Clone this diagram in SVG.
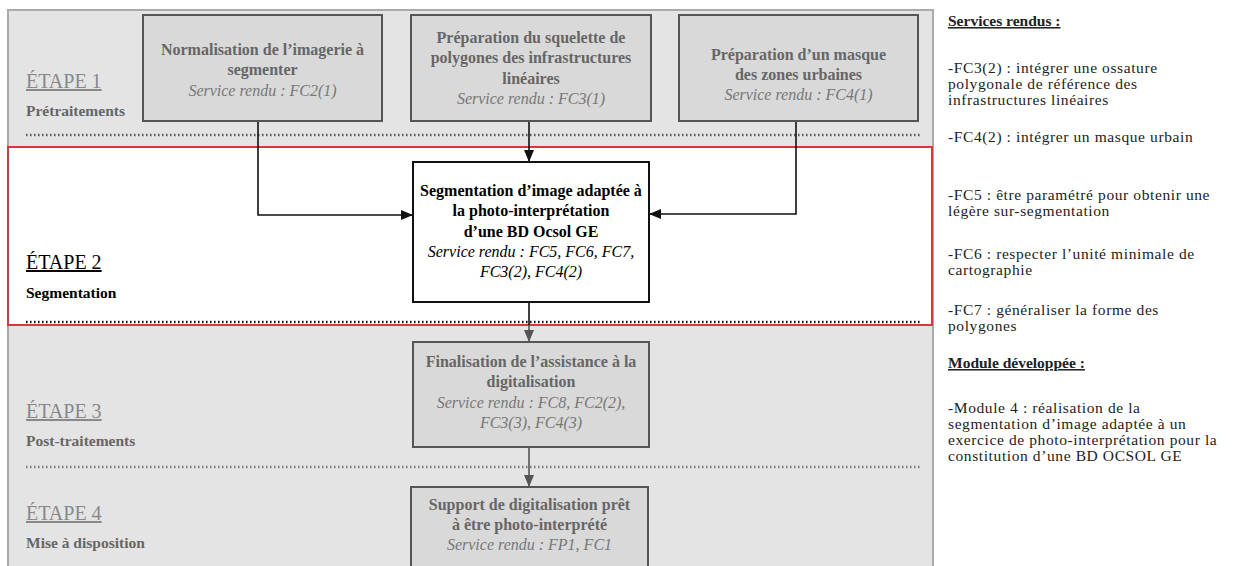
<svg xmlns="http://www.w3.org/2000/svg" width="1233" height="566" viewBox="0 0 1233 566">
<style>
text{font-family:"Liberation Serif","Times New Roman",serif}
.bx{font-size:16px;font-weight:bold;fill:#666;text-anchor:middle}
.bxi{font-size:16px;font-style:italic;fill:#777;text-anchor:middle}
.bk{font-size:16px;font-weight:bold;fill:#000;text-anchor:middle}
.bki{font-size:16px;font-style:italic;fill:#000;text-anchor:middle}
.stp{font-size:20px;text-decoration:underline;fill:#888}
.sub{font-size:15.5px;font-weight:bold;fill:#666}
.rt{font-size:15.5px;letter-spacing:0.6px;fill:#222}
.rh{font-size:15.5px;font-weight:bold;fill:#222;text-decoration:underline}
.gbox{fill:#d9d9d9;stroke:#555;stroke-width:2}
.dot{stroke-width:2.5;stroke-dasharray:1.5 2.5;fill:none}
.cn{fill:none;stroke-width:1.6}
</style>
<defs>
<marker id="ab" markerWidth="12" markerHeight="10" refX="11" refY="5" orient="auto" markerUnits="userSpaceOnUse"><path d="M0,0 L12,5 L0,10 Z" fill="#111"/></marker>
<marker id="ag" markerWidth="12" markerHeight="10" refX="11" refY="5" orient="auto" markerUnits="userSpaceOnUse"><path d="M0,0 L12,5 L0,10 Z" fill="#555"/></marker>
</defs>

<g id="background">
<rect x="8" y="10" width="925" height="570" fill="#e4e4e4" stroke="#aaa" stroke-width="2"/>
<line class="dot" x1="26" y1="135" x2="922" y2="135" stroke="#555"/>
<rect x="8" y="147" width="924" height="178" fill="#fff" stroke="#d9363e" stroke-width="2"/>
<line class="dot" x1="26" y1="322" x2="922" y2="322" stroke="#111"/>
<line class="dot" x1="26" y1="467" x2="922" y2="467" stroke="#777"/>
</g>

<g id="step-labels">
<text class="stp" x="26" y="88">ÉTAPE 1</text>
<text class="sub" x="26" y="116">Prétraitements</text>
<text class="stp" x="26" y="269" style="fill:#000">ÉTAPE 2</text>
<text class="sub" x="26" y="298" style="fill:#000">Segmentation</text>
<text class="stp" x="26" y="418">ÉTAPE 3</text>
<text class="sub" x="26" y="446">Post-traitements</text>
<text class="stp" x="26" y="520">ÉTAPE 4</text>
<text class="sub" x="26" y="548">Mise à disposition</text>
</g>

<g id="connectors">
<polyline class="cn" points="258,121 258,215 412,215" stroke="#111" marker-end="url(#ab)"/>
<polyline class="cn" points="529,121 529,161" stroke="#111" marker-end="url(#ab)"/>
<polyline class="cn" points="796,121 796,214 650,214" stroke="#111" marker-end="url(#ab)"/>
<line class="cn" x1="529" y1="302" x2="529" y2="325" stroke="#111"/>
<polyline class="cn" points="529,325 529,341" stroke="#555" marker-end="url(#ag)"/>
<polyline class="cn" points="529,447 529,486" stroke="#555" marker-end="url(#ag)"/>
</g>

<g id="n1">
<rect class="gbox" x="143" y="15" width="239" height="106"/>
<text class="bx" x="262.5" y="55">Normalisation de l’imagerie à</text>
<text class="bx" x="262.5" y="75">segmenter</text>
<text class="bxi" x="262.5" y="96">Service rendu : FC2(1)</text>
</g>

<g id="n2">
<rect class="gbox" x="411" y="15" width="240" height="106"/>
<text class="bx" x="531" y="43">Préparation du squelette de</text>
<text class="bx" x="531" y="63">polygones des infrastructures</text>
<text class="bx" x="531" y="84">linéaires</text>
<text class="bxi" x="531" y="104">Service rendu : FC3(1)</text>
</g>

<g id="n3">
<rect class="gbox" x="679" y="15" width="239" height="106"/>
<text class="bx" x="798.5" y="60">Préparation d’un masque</text>
<text class="bx" x="798.5" y="80">des zones urbaines</text>
<text class="bxi" x="798.5" y="100">Service rendu : FC4(1)</text>
</g>

<g id="n-central">
<rect x="413" y="162" width="236" height="140" fill="#fff" stroke="#111" stroke-width="2"/>
<text class="bk" x="531" y="196">Segmentation d’image adaptée à</text>
<text class="bk" x="531" y="216">la photo-interprétation</text>
<text class="bk" x="531" y="237">d’une BD Ocsol GE</text>
<text class="bki" x="531" y="257">Service rendu : FC5, FC6, FC7,</text>
<text class="bki" x="531" y="277">FC3(2), FC4(2)</text>
</g>

<g id="n4">
<rect class="gbox" x="413" y="342" width="236" height="105"/>
<text class="bx" x="531" y="367">Finalisation de l’assistance à la</text>
<text class="bx" x="531" y="387">digitalisation</text>
<text class="bxi" x="531" y="408">Service rendu : FC8, FC2(2),</text>
<text class="bxi" x="531" y="428">FC3(3), FC4(3)</text>
</g>

<g id="n5">
<rect class="gbox" x="411" y="487" width="237" height="80"/>
<text class="bx" x="529.5" y="510">Support de digitalisation prêt</text>
<text class="bx" x="529.5" y="530">à être photo-interprété</text>
<text class="bxi" x="529.5" y="550">Service rendu : FP1, FC1</text>
</g>

<g id="side-notes">
<text class="rh" x="948" y="26">Services rendus :</text>
<text class="rt" x="948" y="73">-FC3(2) : intégrer une ossature</text>
<text class="rt" x="948" y="89">polygonale de référence des</text>
<text class="rt" x="948" y="105">infrastructures linéaires</text>
<text class="rt" x="948" y="142">-FC4(2) : intégrer un masque urbain</text>
<text class="rt" x="948" y="200">-FC5 :  être paramétré pour obtenir une</text>
<text class="rt" x="948" y="216">légère sur-segmentation</text>
<text class="rt" x="948" y="259">-FC6 : respecter l’unité minimale de</text>
<text class="rt" x="948" y="275">cartographie</text>
<text class="rt" x="948" y="315">-FC7 : généraliser la forme des</text>
<text class="rt" x="948" y="331">polygones</text>
<text class="rh" x="948" y="368">Module développée :</text>
<text class="rt" x="948" y="413">-Module 4 : réalisation de la</text>
<text class="rt" x="948" y="429">segmentation d’image adaptée à un</text>
<text class="rt" x="948" y="445">exercice de photo-interprétation pour la</text>
<text class="rt" x="948" y="461">constitution d’une BD OCSOL GE</text>
</g>
</svg>
